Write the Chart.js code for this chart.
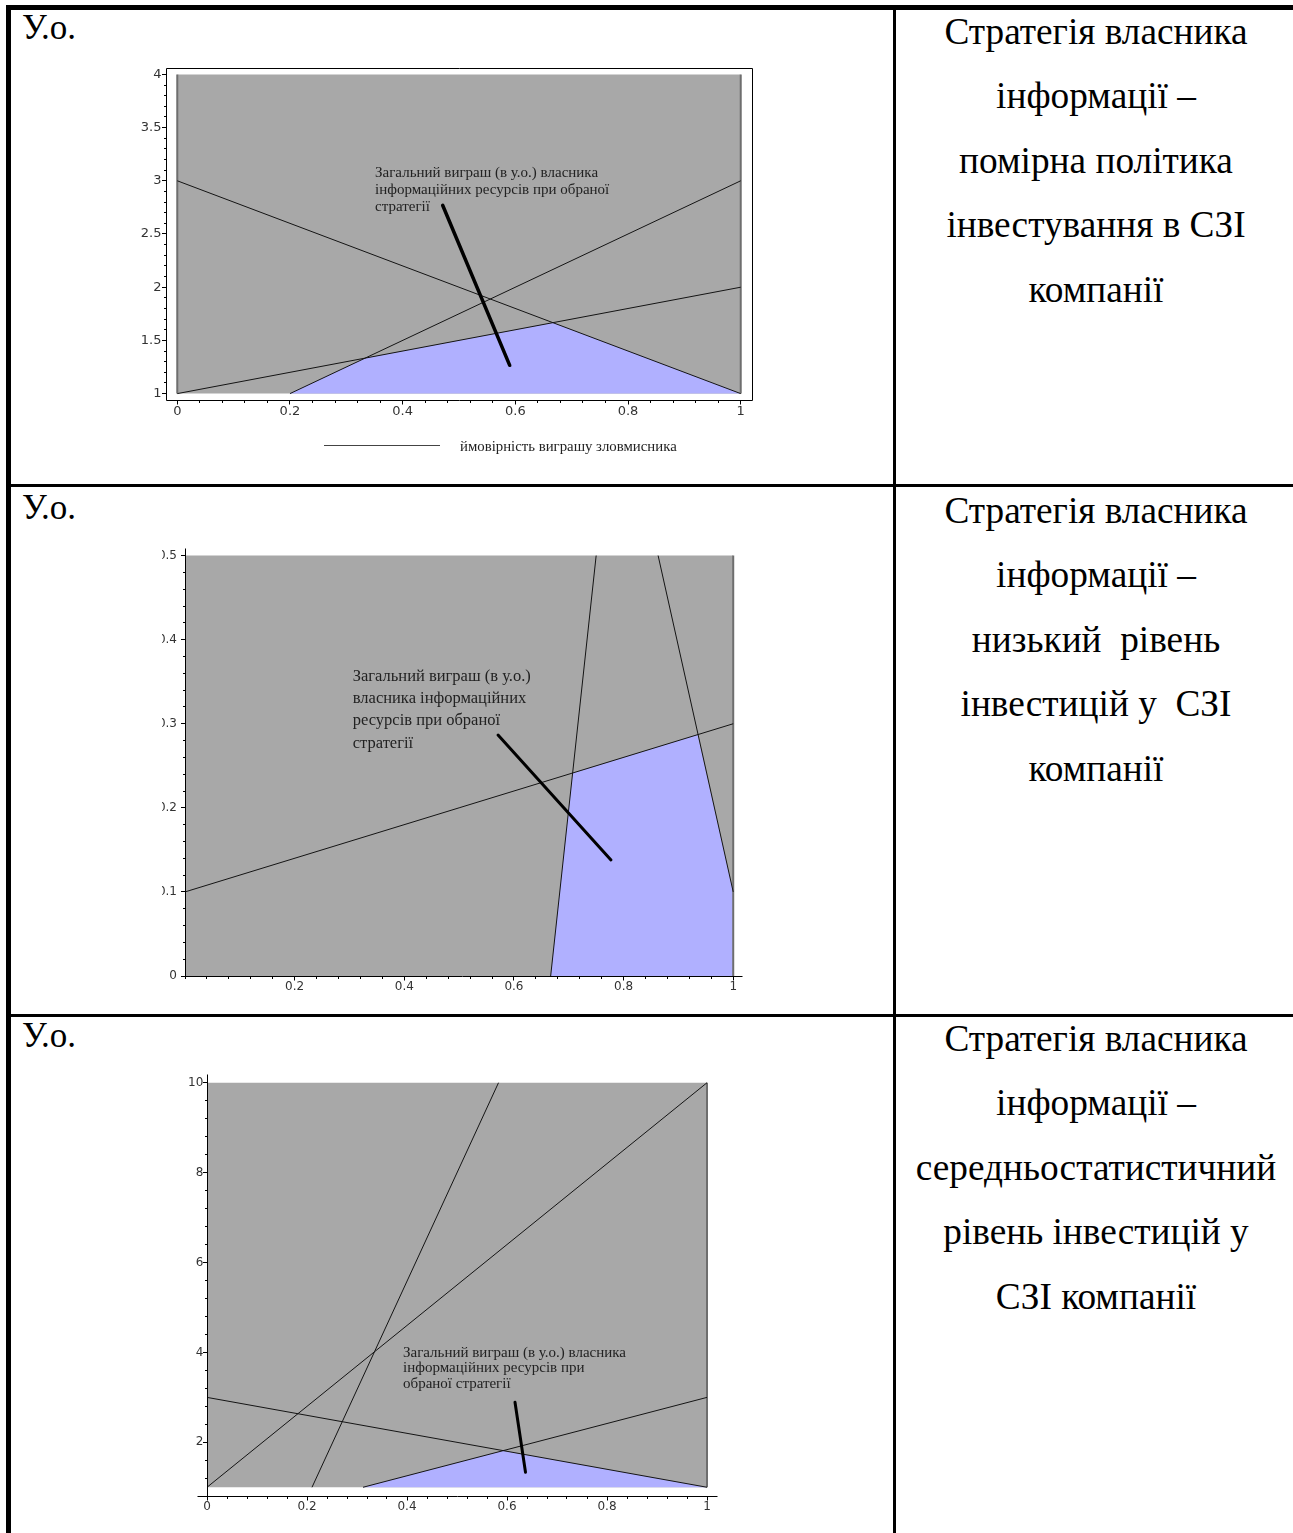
<!DOCTYPE html>
<html lang="uk">
<head>
<meta charset="utf-8">
<title>Стратегії власника інформації</title>
<script src="https://cdn.jsdelivr.net/npm/chart.js@4.4.1/dist/chart.umd.min.js"></script>
<style>
  html, body { margin: 0; padding: 0; background: #fff; }
  #page { position: relative; width: 1293px; height: 1533px; overflow: hidden; font-family: "Liberation Serif", "DejaVu Serif", serif; color: #000; }
  .rule { position: absolute; background: #000; }
  .unit { position: absolute; left: 22px; font-size: 35px; line-height: 35px; }
  .title { position: absolute; left: 896px; width: 400px; text-align: center; font-size: 37.3px; line-height: 64.4px; white-space: pre; }
  .plot { position: absolute; }
  .legend-line { position: absolute; left: 324px; top: 445px; width: 116px; height: 1px; background: #444; }
  .legend-text { position: absolute; left: 460px; top: 437px; font-size: 14.8px; line-height: 18px; color: #222; }
</style>
</head>
<body>
<div id="page">
  <div class="rule" style="left:6px;top:5px;width:1300px;height:5px"></div>
  <div class="rule" style="left:6px;top:5px;width:5px;height:1540px"></div>
  <div class="rule" style="left:893px;top:5px;width:3px;height:1540px"></div>
  <div class="rule" style="left:6px;top:484px;width:1300px;height:3px"></div>
  <div class="rule" style="left:6px;top:1014px;width:1300px;height:3px"></div>

  <canvas id="plot1" class="plot" width="680" height="400" style="left:110px;top:40px"></canvas>
  <canvas id="plot2" class="plot" width="610" height="490" style="left:162px;top:520px"></canvas>
  <canvas id="plot3" class="plot" width="600" height="483" style="left:150px;top:1050px"></canvas>

  <div class="legend-line"></div>
  <div class="legend-text" id="legendText"></div>
</div>

<script>
// ---- text ----
const unitLabel = 'У.о.';
const legendLabel = 'ймовірність виграшу зловмисника';
const noteLines1 = ['Загальний виграш (в у.о.) власника', 'інформаційних ресурсів при обраної', 'стратегії'];
const noteLines2 = ['Загальний виграш (в у.о.)', 'власника інформаційних', 'ресурсів при обраної', 'стратегії'];
const noteLines3 = ['Загальний виграш (в у.о.) власника', 'інформаційних ресурсів при', 'обраної стратегії'];
const rowTitles1 = ['Стратегія власника', 'інформації –', 'помірна політика', 'інвестування в СЗІ', 'компанії'];
const rowTitles2 = ['Стратегія власника', 'інформації –', 'низький  рівень', 'інвестицій у  СЗІ', 'компанії'];
const rowTitles3 = ['Стратегія власника', 'інформації –', 'середньостатистичний', 'рівень інвестицій у', 'СЗІ компанії'];

// ---- chart 1: помірна політика ----
const c1FieldX = [0, 1];
const c1FieldY = [1, 4];
const c1Down = [[0, 3], [1, 1]];
const c1UpLow = [[0, 1], [1, 2]];
const c1UpHigh = [[0.2, 1], [1, 3]];
const c1Win = [[0.2, 1], [0.333, 1.333], [0.667, 1.667], [1, 1]];
const c1Pointer = [[0.471, 2.77], [0.59, 1.266]];
const c1XTicks = [0, 0.2, 0.4, 0.6, 0.8, 1];
const c1YTicks = [1, 1.5, 2, 2.5, 3, 3.5, 4];

// ---- chart 2: низький рівень ----
const c2FieldX = [0, 1];
const c2FieldY = [0, 0.5];
const c2Up = [[0, 0.1], [1, 0.3]];
const c2Steep = [[0.667, 0], [0.75, 0.5]];
const c2Fall = [[0.863, 0.5], [1, 0.1]];
const c2Win = [[0.667, 0], [0.707, 0.241], [0.935, 0.287], [1, 0.1], [1, 0]];
const c2Pointer = [[0.571, 0.2866], [0.777, 0.138]];
const c2XTicks = [0.2, 0.4, 0.6, 0.8, 1];
const c2YTicks = [0, 0.1, 0.2, 0.3, 0.4, 0.5];

// ---- chart 3: середньостатистичний рівень ----
const c3FieldX = [0, 1];
const c3FieldY = [1, 10];
const c3Down = [[0, 3], [1, 1]];
const c3Rise = [[0, 1], [1, 10]];
const c3Steep = [[0.21, 1], [0.583, 10]];
const c3Up = [[0.312, 1], [1, 3]];
const c3Win = [[0.312, 1], [0.592, 1.815], [1, 1]];
const c3Pointer = [[0.616, 2.89], [0.637, 1.334]];
const c3XTicks = [0, 0.2, 0.4, 0.6, 0.8, 1];
const c3YTicks = [2, 4, 6, 8, 10];

// ---- styles ----
const GRAY = 'rgb(168,168,168)';
const BLUE = 'rgb(176,176,255)';
const INK = '#141414';
const EDGE = '#6e6e6e';
const TICK = '#333';
const NOTE_INK = '#222';

Chart.defaults.font.family = 'DejaVu Sans';

const xy = pairs => pairs.map(([x, y]) => ({ x, y }));
const fmt = v => String(+Number(v).toFixed(3));

function line(pairs, width = 1, color = INK) {
    return {
        data: xy(pairs), borderColor: color, borderWidth: width,
        borderCapStyle: width > 2 ? 'round' : 'butt',
        pointRadius: 0, tension: 0, fill: false
    };
}

function area(pairs, color, base) {
    return {
        data: xy(pairs), borderColor: 'rgba(0,0,0,0)', borderWidth: 1,
        backgroundColor: color, pointRadius: 0, tension: 0, fill: { value: base }
    };
}

// gray plot region, filled down to its lower bound
const field = (xs, ys) => area([[xs[0], ys[1]], [xs[1], ys[1]]], GRAY, ys[0]);
// dark boundary lines of the region
const edges = (xs, ys) => xs.map(x => line([[x, ys[0]], [x, ys[1]]], 2, EDGE));

// Maple style axes: lines, major and minor ticks
const mapleAxes = {
    id: 'mapleAxes',
    afterDraw(chart, args, o) {
        const { ctx, chartArea: a, scales: { x, y } } = chart;
        const px = v => Math.floor(x.getPixelForValue(v)) + 0.5;
        const py = v => Math.floor(y.getPixelForValue(v)) + 0.5;
        const isMajor = (list, v) => list.some(t => Math.abs(t - v) < 1e-6);
        const seg = (x1, y1, x2, y2) => { ctx.moveTo(x1, y1); ctx.lineTo(x2, y2); };

        ctx.save();
        ctx.strokeStyle = '#000';
        ctx.lineWidth = 1;
        ctx.beginPath();

        const ax = px(o.yAt);
        const ay = py(o.xAt);
        if (o.box) {
            ctx.rect(Math.floor(a.left) + 0.5, Math.floor(a.top) + 0.5,
                Math.round(a.right - a.left), Math.round(a.bottom - a.top));
        } else {
            seg(ax, py(o.yLine[0]), ax, py(o.yLine[1]));
            seg(px(o.xLine[0]), ay, px(o.xLine[1]), ay);
        }

        const nx = Math.round((o.xSpan[1] - o.xSpan[0]) / o.xMinor);
        for (let i = 0; i <= nx; i++) {
            const v = o.xSpan[0] + i * o.xMinor;
            const p = px(v);
            seg(p, ay, p, ay + (isMajor(o.xTicks, v) ? 4 : 2.5));
        }
        const ny = Math.round((o.ySpan[1] - o.ySpan[0]) / o.yMinor);
        for (let i = 0; i <= ny; i++) {
            const v = o.ySpan[0] + i * o.yMinor;
            const p = py(v);
            seg(ax, p, ax - (isMajor(o.yTicks, v) ? 4.5 : 2.5), p);
        }
        ctx.stroke();
        ctx.restore();
    }
};

// annotation text placed in data coordinates
const noteText = {
    id: 'noteText',
    afterDatasetsDraw(chart, args, o) {
        const { ctx, scales: { x, y } } = chart;
        ctx.save();
        ctx.font = o.font;
        ctx.fillStyle = NOTE_INK;
        ctx.textAlign = 'left';
        ctx.textBaseline = 'alphabetic';
        const left = x.getPixelForValue(o.at[0]);
        const base = y.getPixelForValue(o.at[1]);
        o.lines.forEach((t, i) => ctx.fillText(t, left, base + i * o.step));
        ctx.restore();
    }
};

function buildChart(id, spec) {
    const tickFont = { family: 'DejaVu Sans', size: spec.tickSize };
    return new Chart(document.getElementById(id), {
        type: 'line',
        data: { datasets: spec.datasets },
        plugins: [mapleAxes, noteText],
        options: {
            responsive: false,
            animation: false,
            devicePixelRatio: 1,
            events: [],
            layout: { padding: { top: spec.padTop, right: spec.padRight, left: 0, bottom: 0 } },
            plugins: {
                legend: { display: false },
                tooltip: { enabled: false },
                mapleAxes: spec.axes,
                noteText: spec.note
            },
            scales: {
                x: {
                    type: 'linear', min: spec.xRange[0], max: spec.xRange[1],
                    afterBuildTicks: s => { s.ticks = spec.xTicks.map(value => ({ value })); },
                    afterFit: s => { s.height = spec.xAxisHeight; },
                    grid: { display: false, drawTicks: false },
                    border: { display: false },
                    ticks: { autoSkip: false, maxRotation: 0, padding: spec.xPad, color: TICK, font: tickFont, callback: fmt }
                },
                y: {
                    type: 'linear', position: 'left', min: spec.yRange[0], max: spec.yRange[1],
                    afterBuildTicks: s => { s.ticks = spec.yTicks.map(value => ({ value })); },
                    afterFit: s => { s.width = spec.yAxisWidth; },
                    grid: { display: false, drawTicks: false },
                    border: { display: false },
                    ticks: { autoSkip: false, padding: spec.yPad, color: TICK, font: tickFont, callback: fmt }
                }
            }
        }
    });
}

// Chart 1
buildChart('plot1', {
    datasets: [
        line(c1Pointer, 3.5, '#000'),
        line(c1Down), line(c1UpLow), line(c1UpHigh),
        ...edges(c1FieldX, c1FieldY),
        area(c1Win, BLUE, c1FieldY[0]),
        field(c1FieldX, c1FieldY)
    ],
    xRange: [-0.02, 1.02], yRange: [0.94, 4.06],
    xTicks: c1XTicks, yTicks: c1YTicks,
    padTop: 28, padRight: 38, xAxisHeight: 40, yAxisWidth: 56,
    xPad: 4, yPad: 4.5, tickSize: 13,
    axes: { box: true, xAt: 0.94, yAt: -0.02, xTicks: c1XTicks, yTicks: c1YTicks,
            xSpan: [0, 1], xMinor: 0.04, ySpan: [1, 4], yMinor: 0.1 },
    note: { lines: noteLines1, at: [0.351, 3.04], step: 17, font: '15px "Liberation Serif"' }
});

// Chart 2
buildChart('plot2', {
    datasets: [
        line(c2Pointer, 3, '#000'),
        line(c2Up), line(c2Steep), line(c2Fall),
        ...edges([c2FieldX[1]], c2FieldY),
        area(c2Win, BLUE, c2FieldY[0]),
        field(c2FieldX, c2FieldY)
    ],
    xRange: [0, 1.016], yRange: [0, 0.509],
    xTicks: c2XTicks, yTicks: c2YTicks,
    padTop: 28, padRight: 30, xAxisHeight: 34, yAxisWidth: 23,
    xPad: 4, yPad: 8, tickSize: 12,
    axes: { box: false, xAt: 0, yAt: 0, xLine: [-0.004, 1.016], yLine: [0, 0.509],
            xTicks: c2XTicks, yTicks: c2YTicks,
            xSpan: [0, 1], xMinor: 0.04, ySpan: [0, 0.5], yMinor: 0.02 },
    note: { lines: noteLines2, at: [0.306, 0.351], step: 22.3, font: '16.5px "Liberation Serif"' }
});

// Chart 3
buildChart('plot3', {
    datasets: [
        line(c3Pointer, 3, '#000'),
        line(c3Down), line(c3Rise), line(c3Steep), line(c3Up),
        ...edges([c3FieldX[1]], c3FieldY),
        area(c3Win, BLUE, c3FieldY[0]),
        field(c3FieldX, c3FieldY)
    ],
    xRange: [0, 1.02], yRange: [0.806, 10.194],
    xTicks: c3XTicks, yTicks: c3YTicks,
    padTop: 24, padRight: 33, xAxisHeight: 37, yAxisWidth: 57,
    xPad: 3.5, yPad: 3.7, tickSize: 12,
    axes: { box: false, xAt: 0.806, yAt: 0, xLine: [-0.02, 1.02], yLine: [0.806, 10.194],
            xTicks: c3XTicks, yTicks: c3YTicks,
            xSpan: [0, 1], xMinor: 0.04, ySpan: [1.2, 10], yMinor: 0.4 },
    note: { lines: noteLines3, at: [0.392, 3.9], step: 15.5, font: '15px "Liberation Serif"' }
});

// ---- table text ----
const page = document.getElementById('page');
const unitTops = [10, 490, 1018];
const titleTops = [0, 479, 1007];
[rowTitles1, rowTitles2, rowTitles3].forEach((lines, i) => {
    const u = document.createElement('div');
    u.className = 'unit';
    u.style.top = unitTops[i] + 'px';
    u.textContent = unitLabel;
    page.appendChild(u);

    const t = document.createElement('div');
    t.className = 'title';
    t.style.top = titleTops[i] + 'px';
    t.textContent = lines.join('\n');
    page.appendChild(t);
});
document.getElementById('legendText').textContent = legendLabel;
</script>
</body>
</html>
